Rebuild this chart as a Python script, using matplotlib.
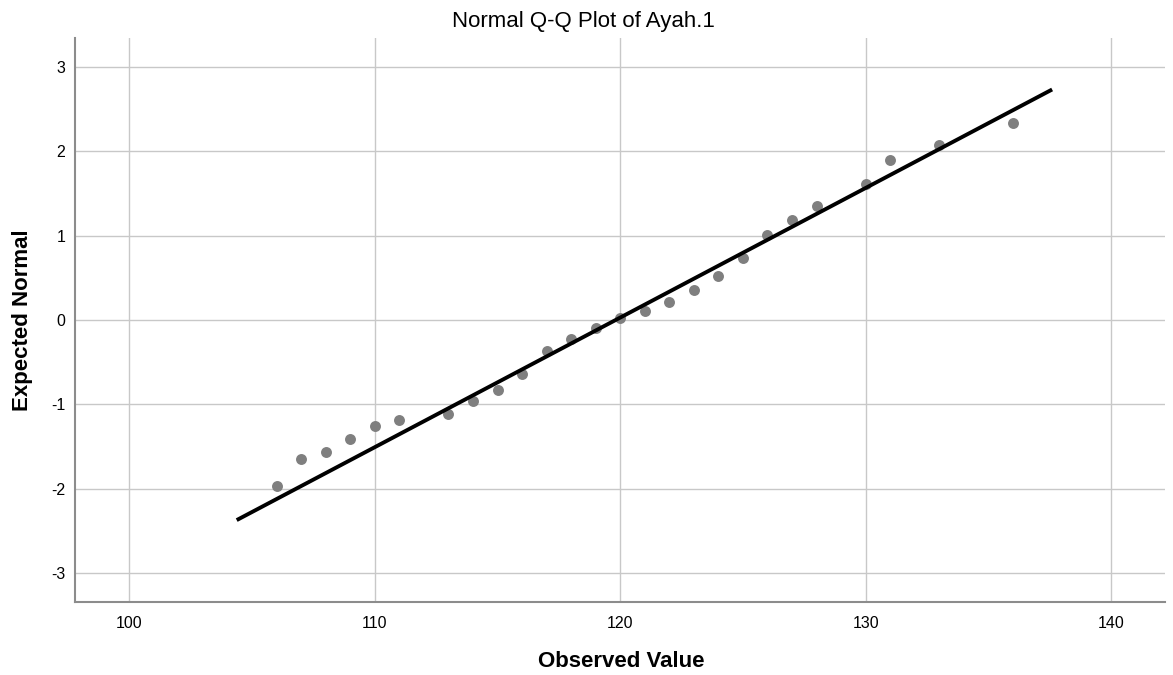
import matplotlib
matplotlib.use("Agg")
import matplotlib.pyplot as plt

observed = [106, 107, 108, 109, 110, 111, 113, 114, 115, 116, 117, 118, 119,
            120, 121, 122, 123, 124, 125, 126, 127, 128, 130, 131, 133, 136]
expected = [-1.97, -1.65, -1.56, -1.41, -1.26, -1.18, -1.11, -0.955, -0.83,
            -0.635, -0.37, -0.22, -0.095, 0.025, 0.11, 0.21, 0.355, 0.52,
            0.74, 1.01, 1.19, 1.35, 1.615, 1.89, 2.07, 2.33]

# reference line end points
line_x = [104.37, 137.6]
line_y = [-2.37, 2.73]

x_ticks = [100, 110, 120, 130, 140]
y_ticks = [-3, -2, -1, 0, 1, 2, 3]

plt.rcParams['font.family'] = ['Liberation Sans', 'DejaVu Sans']
plt.rcParams['axes.unicode_minus'] = False

fig = plt.figure(figsize=(11.73, 6.75), dpi=100)
ax = fig.add_axes([75 / 1173, 1 - 602 / 675, 1090 / 1173, 564 / 675])

ax.set_xlim(97.78, 142.2)
ax.set_ylim(-3.34, 3.34)
ax.set_xticks(x_ticks)
ax.set_yticks(y_ticks)
ax.grid(True, color='#c8c8c8', linewidth=1.0)
ax.set_axisbelow(True)

ax.scatter(observed, expected, s=62, color='#7f7f7f', zorder=3, linewidths=0)
ax.plot(line_x, line_y, color='black', linewidth=2.8, zorder=4,
        solid_capstyle='butt')

for side in ['top', 'right']:
    ax.spines[side].set_visible(False)
for side in ['left', 'bottom']:
    ax.spines[side].set_color('#8c8c8c')
    ax.spines[side].set_linewidth(1.5)

ax.tick_params(length=0, labelsize=11.5, colors='black')
ax.tick_params(axis='x', pad=10)
ax.tick_params(axis='y', pad=7)

fig.text(583 / 1173, 1 - 27.5 / 675, 'Normal Q-Q Plot of Ayah.1', ha='center',
         va='baseline', fontsize=16)
ax.set_xlabel('Observed Value', fontsize=16, fontweight='bold')
ax.set_ylabel('Expected Normal', fontsize=16, fontweight='bold')
ax.xaxis.set_label_coords(0.501, -0.105)
ax.yaxis.set_label_coords(-0.0486, 0.5)
ax.xaxis.label.set_va('center')
ax.yaxis.label.set_va('center')

fig.savefig('out.png', dpi=100)
